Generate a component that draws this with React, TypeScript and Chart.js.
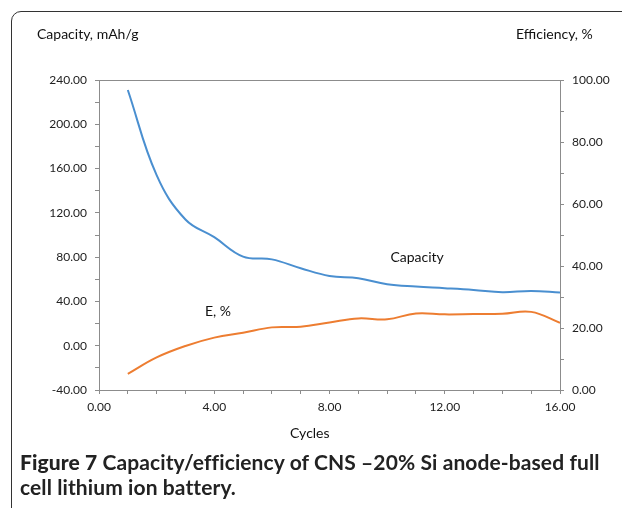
import React, { useEffect, useRef } from "react";
import { Chart, registerables } from "chart.js";

Chart.register(...registerables);

const cycles = [1, 2, 3, 4, 5, 6, 7, 8, 9, 10, 11, 12, 13, 14, 15, 16];
const capacity = [231, 154, 114, 98, 80.5, 78, 70, 63, 61, 55.5, 53.4, 52, 50.4, 48.3, 49.5, 48];
const efficiency = [5.2, 10.5, 14.2, 16.9, 18.5, 20.2, 20.4, 21.8, 23.1, 22.8, 24.7, 24.4, 24.5, 24.6, 25.2, 21.7];

const leftTitle = "Capacity, mAh/g";
const rightTitle = "Efficiency, %";
const xTitle = "Cycles";
const capLabel = "Capacity";
const effLabel = "E, %";
const captionBold = "Figure 7";
const captionLine1 = " Capacity/efficiency of CNS \u201320% Si anode-based full";
const captionLine2 = "cell lithium ion battery.";

const FONT = "Lato, 'Open Sans', sans-serif";
const AXIS = "#8c8c8c";

export default function App() {
  const ref = useRef<HTMLCanvasElement | null>(null);

  useEffect(() => {
    if (!ref.current) return;
    const tickFont = { family: FONT, size: 12 };
    const labelsPlugin = {
      id: "annot",
      afterDraw(chart: any) {
        const { ctx, chartArea, scales } = chart;
        ctx.save();
        ctx.strokeStyle = AXIS;
        ctx.lineWidth = 1;
        ctx.beginPath();
        ctx.moveTo(chartArea.left, chartArea.top + 0.5);
        ctx.lineTo(chartArea.right, chartArea.top + 0.5);
        ctx.stroke();
        ctx.fillStyle = "#111";
        ctx.font = `14px ${FONT}`;
        ctx.textAlign = "center";
        ctx.textBaseline = "middle";
        ctx.fillText(capLabel, scales.x.getPixelForValue(11.04), scales.y.getPixelForValue(79.3));
        ctx.fillText(effLabel, scales.x.getPixelForValue(4.13), scales.y.getPixelForValue(30.5));
        ctx.restore();
      },
    };
    const chart = new Chart(ref.current, {
      type: "line",
      data: {
        datasets: [
          {
            label: "Capacity",
            data: cycles.map((c, i) => ({ x: c, y: capacity[i] })),
            yAxisID: "y",
            borderColor: "#4a8fd0",
            borderWidth: 2,
            pointRadius: 0,
            tension: 0.4,
            fill: false,
          },
          {
            label: "E, %",
            data: cycles.map((c, i) => ({ x: c, y: efficiency[i] })),
            yAxisID: "y1",
            borderColor: "#ed7d31",
            borderWidth: 2,
            pointRadius: 0,
            tension: 0.4,
            fill: false,
          },
        ],
      },
      options: {
        responsive: false,
        animation: false,
        layout: { padding: { top: 80, left: 0, right: 0, bottom: 0 } },
        plugins: { legend: { display: false }, tooltip: { enabled: false } },
        scales: {
          x: {
            type: "linear",
            min: 0,
            max: 16,
            ticks: {
              stepSize: 1,
              autoSkip: false,
              maxRotation: 0,
              font: tickFont,
              color: "#222",
              padding: 6,
              callback: (v: any) => (Number(v) % 4 === 0 ? Number(v).toFixed(2) : ""),
            },
            grid: { drawOnChartArea: false, drawTicks: true, tickLength: 4, color: AXIS },
            border: { color: AXIS, width: 1 },
            afterFit: (s: any) => {
              s.height = 70;
            },
          },
          y: {
            type: "linear",
            position: "left",
            min: -40,
            max: 240,
            ticks: {
              stepSize: 20,
              autoSkip: false,
              font: tickFont,
              color: "#222",
              padding: 8,
              callback: (v: any) => (Number(v) % 40 === 0 ? Number(v).toFixed(2) : ""),
            },
            grid: { drawOnChartArea: false, drawTicks: true, tickLength: 4, color: AXIS },
            border: { color: AXIS, width: 1 },
            afterFit: (s: any) => {
              s.width = 99;
            },
          },
          y1: {
            type: "linear",
            position: "right",
            min: 0,
            max: 100,
            ticks: {
              stepSize: 10,
              autoSkip: false,
              font: tickFont,
              color: "#222",
              padding: 8,
              callback: (v: any) => (Number(v) % 20 === 0 ? Number(v).toFixed(2) : ""),
            },
            grid: { drawOnChartArea: false, drawTicks: true, tickLength: 4, color: AXIS },
            border: { color: AXIS, width: 1 },
            afterFit: (s: any) => {
              s.width = 62;
            },
          },
        },
      },
      plugins: [labelsPlugin],
    } as any);
    return () => chart.destroy();
  }, []);

  return (
    <div style={{ position: "fixed", left: 0, top: 0, width: 622, height: 508, background: "#fff", overflow: "hidden" }}>
      <div
        style={{
          position: "absolute",
          left: 11,
          top: 11,
          width: 700,
          height: 600,
          border: "1.5px solid #333",
          borderRadius: 10,
          boxSizing: "border-box",
        }}
      />
      <canvas ref={ref} width={622} height={460} style={{ position: "absolute", left: 0, top: 0, width: 622, height: 460 }} />
      <div style={{ position: "absolute", left: 37, top: 25, font: `14px ${FONT}`, color: "#111", whiteSpace: "nowrap" }}>{leftTitle}</div>
      <div style={{ position: "absolute", left: 516, top: 25, font: `14px ${FONT}`, color: "#111", whiteSpace: "nowrap" }}>{rightTitle}</div>
      <div style={{ position: "absolute", left: 290, top: 424, font: `14px ${FONT}`, color: "#111", whiteSpace: "nowrap" }}>{xTitle}</div>
      <div
        style={{
          position: "absolute",
          left: 20,
          top: 449,
          font: `bold 21px ${FONT}`,
          letterSpacing: "0.1px",
          color: "#222",
          lineHeight: "25px",
          whiteSpace: "nowrap",
        }}
      >
        <div>
          <span style={{ fontWeight: 900 }}>{captionBold}</span>
          {captionLine1}
        </div>
        <div>{captionLine2}</div>
      </div>
    </div>
  );
}
